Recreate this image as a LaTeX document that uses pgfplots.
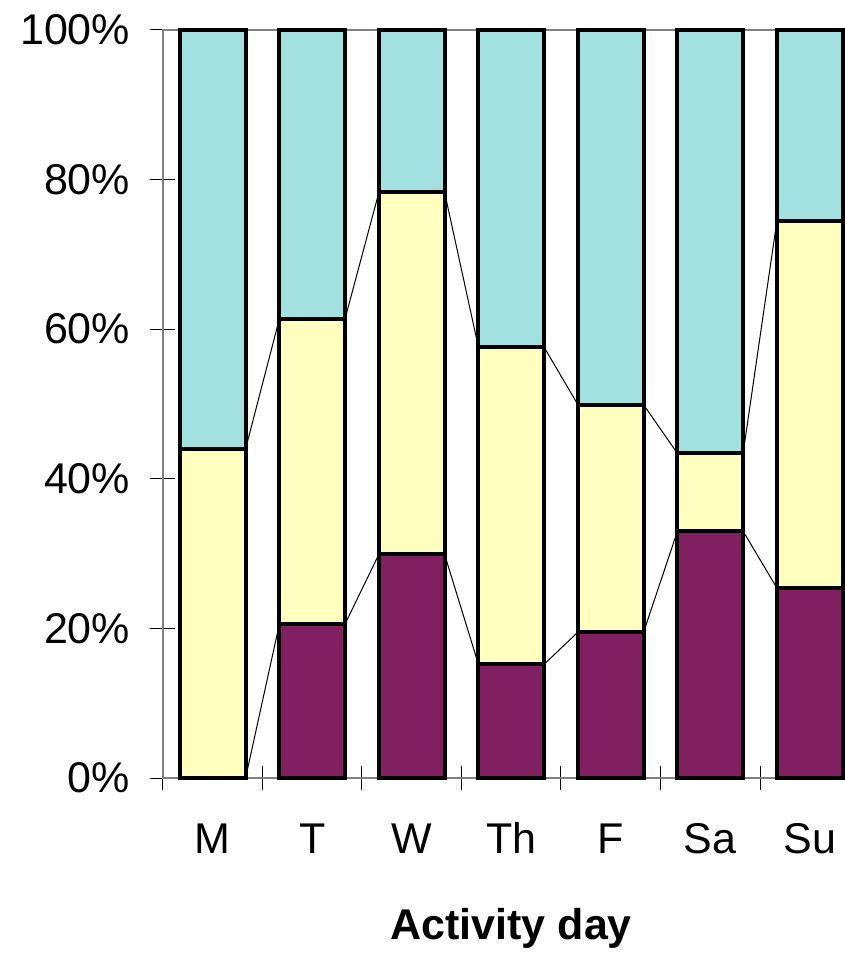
\documentclass[border=0pt]{standalone}
\usepackage{fontspec}
\setmainfont{Liberation Sans}
\usepackage{pgfplots}
\pgfplotsset{compat=1.18}
\definecolor{plum}{HTML}{802060}
\definecolor{ivory}{HTML}{FFFFC0}
\definecolor{aqua}{HTML}{A3E0E0}

\pgfplotsset{dayaxis/.style={
    width=348.25pt, height=374pt, scale only axis,
    at={(0,0)}, anchor=south west,
    xmin=-0.5, xmax=6.5, ymin=0, ymax=100,
}}

\begin{document}
\begin{tikzpicture}
\useasboundingbox (-81.5pt,-87.5pt) rectangle (341pt,389pt);
\begin{scope}[overlay]
\clip (-81.5pt,-87.5pt) rectangle (341pt,389pt);

% series lines between the bars
\begin{axis}[dayaxis, hide axis, clip=false]
    \addplot[black, line width=0.5pt, unbounded coords=jump] coordinates {
        (0.33,0)(0.67,20.6)(nan,nan)
        (1.33,20.6)(1.67,29.9)(nan,nan)
        (2.33,29.9)(2.67,15.2)(nan,nan)
        (3.33,15.2)(3.67,19.5)(nan,nan)
        (4.33,19.5)(4.67,33.0)(nan,nan)
        (5.33,33.0)(5.67,25.4)
    };
    \addplot[black, line width=0.5pt, unbounded coords=jump] coordinates {
        (0.33,44.0)(0.67,61.4)(nan,nan)
        (1.33,61.4)(1.67,78.3)(nan,nan)
        (2.33,78.3)(2.67,57.6)(nan,nan)
        (3.33,57.6)(3.67,49.9)(nan,nan)
        (4.33,49.9)(4.67,43.4)(nan,nan)
        (5.33,43.4)(5.67,74.5)
    };
\end{axis}

\begin{axis}[dayaxis,
    ybar stacked, bar width=0.66, clip=false,
    axis line style={gray, line width=1pt},
    tick style={black, line width=0.5pt},
    major tick length=12.5pt, minor tick length=12.5pt,
    tick align=center,
    xtick pos=bottom, ytick pos=left,
    xtick={0,...,6}, xticklabels={M,T,W,Th,F,Sa,Su},
    major x tick style={draw=none},
    minor xtick={-0.5,0.5,...,6.5},
    ytick={0,20,...,100}, minor y tick num=0,
    yticklabel={\pgfmathprintnumber{\tick}\%},
    /pgf/number format/assume math mode=true,
    tick label style={font=\fontsize{21.5}{24}\selectfont},
    yticklabel style={anchor=east, inner sep=0pt, xshift=-10pt},
    xticklabel style={anchor=north, inner sep=0pt, yshift=-15.5pt, text height=15.6pt},
    xlabel={Activity day},
    xlabel style={font=\fontsize{21.5}{24}\selectfont\bfseries,
        at={(axis description cs:0.5,0)}, anchor=north, inner sep=0pt, yshift=-65pt},
]
    \addplot[fill=plum, draw=black, line width=2pt] coordinates {
        (0,0)(1,20.6)(2,29.9)(3,15.2)(4,19.5)(5,33.0)(6,25.4)
    };
    \addplot[fill=ivory, draw=black, line width=2pt] coordinates {
        (0,44.0)(1,40.8)(2,48.4)(3,42.4)(4,30.4)(5,10.4)(6,49.1)
    };
    \addplot[fill=aqua, draw=black, line width=2pt] coordinates {
        (0,56.0)(1,38.6)(2,21.7)(3,42.4)(4,50.1)(5,56.6)(6,25.5)
    };
\end{axis}
\end{scope}
\end{tikzpicture}
\end{document}
